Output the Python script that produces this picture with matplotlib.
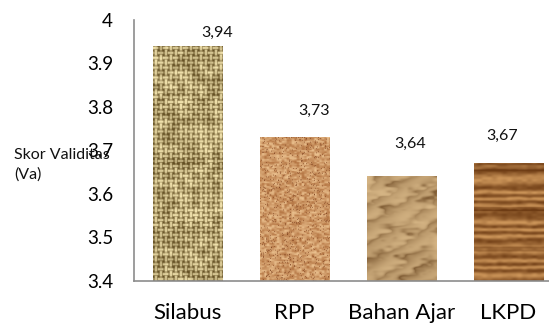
import matplotlib.pyplot as plt
import numpy as np

plt.rcParams['font.family'] = ['Lato', 'DejaVu Sans']

kategori = ['Silabus', 'RPP', 'Bahan Ajar', 'LKPD']
skor = [3.94, 3.73, 3.64, 3.67]
label_skor = ['3,94', '3,73', '3,64', '3,67']
y_ticks = [3.4, 3.5, 3.6, 3.7, 3.8, 3.9, 4.0]
y_ticklabels = ['3.4', '3.5', '3.6', '3.7', '3.8', '3.9', '4']


# pseudo noise (deterministic hash), only for the bar textures
def noise(x, y, s=1.0):
    v = np.sin(x * 12.9898 * s + y * 78.233 * s) * 43758.5453
    return v - np.floor(v)


def smooth_noise(h, w, cell):
    yy, xx = np.mgrid[0:h, 0:w] / cell
    x0 = np.floor(xx); y0 = np.floor(yy)
    fx = xx - x0; fy = yy - y0
    fx = fx * fx * (3 - 2 * fx); fy = fy * fy * (3 - 2 * fy)
    a = noise(x0, y0); b = noise(x0 + 1, y0)
    c = noise(x0, y0 + 1); d = noise(x0 + 1, y0 + 1)
    return (a * (1 - fx) + b * fx) * (1 - fy) + (c * (1 - fx) + d * fx) * fy


def mix(c1, c2, t):
    c1 = np.array(c1) / 255.0; c2 = np.array(c2) / 255.0
    t = np.clip(t, 0, 1)[..., None]
    return c1 * (1 - t) + c2 * t


def tex_burlap(h, w):
    yy, xx = np.mgrid[0:h, 0:w]
    cell = 5
    fx = (xx % cell) / cell; fy = (yy % cell) / cell
    ci = xx // cell; cj = yy // cell
    over = ((ci + cj) % 2) == 0
    vert = np.sin(np.pi * fx) ** 2
    horz = np.sin(np.pi * fy) ** 2
    light = np.where(over, np.maximum(horz, 0.6 * vert), np.maximum(vert, 0.6 * horz))
    t = 1 - light * 0.9 + 0.45 * (smooth_noise(h, w, 7) - 0.5)
    return mix((240, 225, 172), (100, 80, 36), t)


def tex_cork(h, w):
    n1 = smooth_noise(h, w, 2.5)
    n2 = noise(*np.mgrid[0:h, 0:w], s=0.37)
    t = 0.5 + 0.9 * (n1 - 0.5)
    img = mix((240, 200, 150), (175, 110, 60), t)
    dark = n2 > 0.96
    img[dark] = np.array([125, 65, 32]) / 255.0
    return img


def tex_paper(h, w):
    yy, xx = np.mgrid[0:h, 0:w]
    n = smooth_noise(h, w, 18) * 0.6 + smooth_noise(h + 7, w + 7, 7)[:h, :w] * 0.4
    ridge = np.abs(np.sin((xx * 0.9 + yy * 0.6) / 9 + n * 4))
    t = 0.35 + 0.7 * (1 - ridge) * n + 0.4 * (n - 0.5)
    return mix((232, 200, 150), (130, 95, 55), t)


def tex_wood(h, w):
    yy, xx = np.mgrid[0:h, 0:w]
    n = smooth_noise(h, w, 14)
    band = np.sin(yy / 3.2 + np.sin(yy / 11.0) * 2 + n * 1.2)
    t = 0.45 + 0.35 * band + 0.25 * (smooth_noise(h, w, 5) - 0.5)
    dark = np.sin(yy / 13.0 + 0.7) > 0.93
    t = np.where(dark, t + 0.4, t)
    return mix((205, 150, 90), (110, 60, 20), t)


tekstur = [tex_burlap, tex_cork, tex_paper, tex_wood]

fig = plt.figure(figsize=(5.49, 3.24), dpi=100)
ax = fig.add_axes([0.244, 0.1327, 0.756, 0.807])

x = np.arange(len(kategori))
bars = ax.bar(x, skor, width=0.65, bottom=0, color='none', edgecolor='none')

ax.set_ylim(3.4, 4.0)
ax.set_xlim(-0.5, 3.38)

for b, f in zip(bars, tekstur):
    x0, w = b.get_x(), b.get_width()
    top = b.get_height()
    img = f(240, 70)
    im = ax.imshow(img, extent=(x0, x0 + w, 3.4, top), aspect='auto',
                   origin='upper', interpolation='bilinear', zorder=2)
    im.set_clip_path(b)

offsets = [(30, 13), (20, 26), (9, 33), (-6, 27)]
for xi, v, lab, (dx, dy) in zip(x, skor, label_skor, offsets):
    ax.annotate(lab, (xi, v), xytext=(dx * 0.72, dy * 0.72), textcoords='offset points',
                ha='center', va='center', fontsize=11.5, color='#111111')

ax.set_yticks(y_ticks)
ax.set_yticklabels(y_ticklabels, fontsize=13.5)
ax.set_xticks(x)
ax.set_xticklabels(kategori, fontsize=16)
ax.tick_params(axis='both', length=0)
ax.tick_params(axis='y', pad=15)
ax.tick_params(axis='x', pad=16)

for s in ['top', 'right']:
    ax.spines[s].set_visible(False)
for s in ['left', 'bottom']:
    ax.spines[s].set_color('#8c8c8c')
    ax.spines[s].set_linewidth(1.2)

fig.text(14 / 549, 0.491, 'Skor Validitas\n(Va)', ha='left', va='center',
         fontsize=11.5, linespacing=1.45, color='#111111')

fig.savefig('out.png', dpi=100)
